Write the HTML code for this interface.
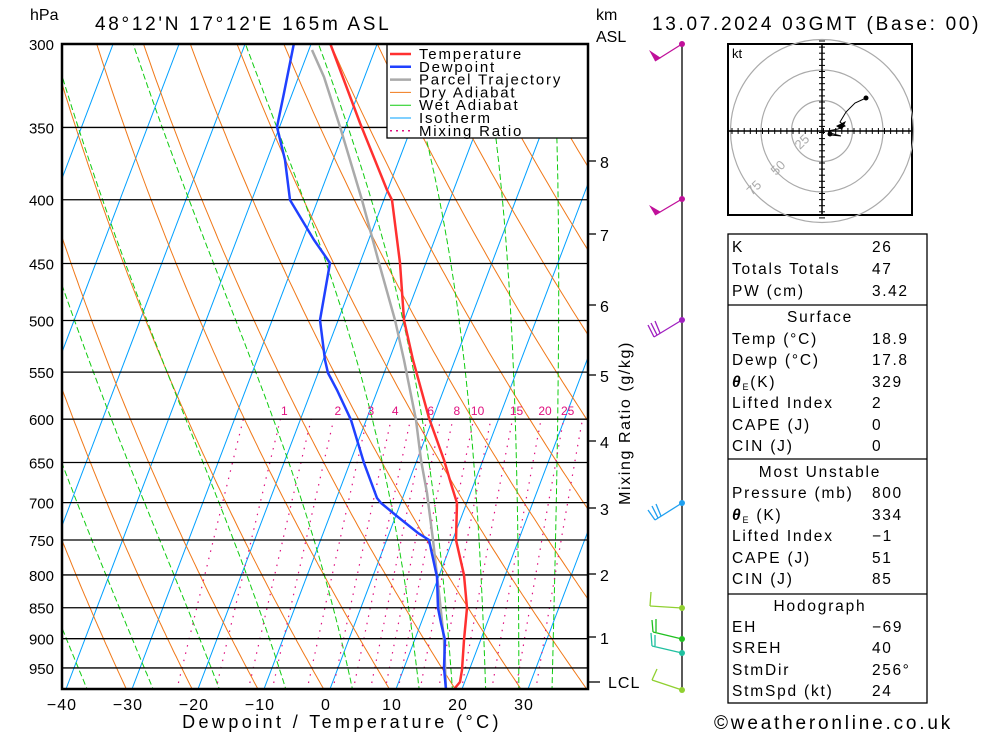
<!DOCTYPE html>
<html><head><meta charset="utf-8"><style>
body{margin:0;background:#fff;width:1000px;height:733px;overflow:hidden;font-family:"Liberation Sans",sans-serif}
svg{position:absolute;left:0;top:0}
</style></head><body>
<svg id="s" width="1000" height="733" viewBox="0 0 1000 733" font-family="Liberation Sans, sans-serif">
<defs><clipPath id="c"><rect x="62" y="44" width="526" height="645"/></clipPath></defs>
<g id="bg" clip-path="url(#c)"></g>
<g id="fg"></g>
</svg>
<script>
const NS="http://www.w3.org/2000/svg";
const bg=document.getElementById('bg'),fg=document.getElementById('fg');
function el(par,tag,a,txt){const e=document.createElementNS(NS,tag);for(const k in a)e.setAttribute(k,a[k]);if(txt!==undefined)e.textContent=txt;par.appendChild(e);return e;}
const Y=p=>44+541.3*Math.log(p/300);
const X=(T,y)=>330+6.6*T+0.38*(689-y);
function pl(par,pts,st){el(par,'polyline',Object.assign({points:pts.map(p=>p[0].toFixed(1)+','+p[1].toFixed(1)).join(' '),fill:'none'},st));}
for(let T=-120;T<=50;T+=10){pl(bg,[[X(T,689),689],[X(T,44),44]],{stroke:'#00a0ff','stroke-width':1});}
for(let th=-40;th<=220;th+=10){const pts=[];for(let p=990;p>=295;p-=5){const T=(th+273.15)*Math.pow(p/1000,0.286)-273.15;const y=Y(p);pts.push([X(T,y),y]);}pl(bg,pts,{stroke:'#f07818','stroke-width':1});}
function ws(T,p){const e=6.112*Math.exp(17.67*T/(T+243.5));return 0.622*e/(p-e);}
function dTdp(T,p){const Tk=T+273.15,r=ws(T,p),Rd=287,cp=1004,L=2.5e6;return (Rd*Tk+L*r)/(p*(cp+L*L*r*0.622/(Rd*Tk*Tk)));}
for(const tw of [-36,-26,-16,-6,4,14,19,24,29,34]){const pts=[];let T=tw;
 const Tb=tw+dTdp(tw,1000)*(-10);pts.push([X(Tb,Y(990)),Y(990)]);
 for(let p=1000;p>=295;p-=2){const y=Y(p);pts.push([X(T,y),y]);T-=dTdp(T,p)*2;}
 pl(bg,pts,{stroke:'#10cc10','stroke-width':1,'stroke-dasharray':'6,3'});}
const mr=[1,2,3,4,6,8,10,15,20,25];
for(const w of [0.6,1.5,5,7,12,30].concat(mr)){const pts=[];for(let p=990;p>=600;p-=10){const e=w/1000*p/(0.622+w/1000);const l=Math.log(e/6.112);const T=243.5*l/(17.67-l);const y=Y(p);pts.push([X(T,y),y]);}
 pl(bg,pts,{stroke:'#e0107f','stroke-width':1.2,'stroke-dasharray':'1.5,6'});
 if(mr.includes(w)){const x=pts[pts.length-1][0];el(fg,'text',{x:x+4,y:415,'font-size':12,fill:'#e0107f','text-anchor':'middle'},String(w));}}
const P=[300,350,400,450,500,550,600,650,700,750,800,850,900,950];
for(const p of P){const y=Y(p);el(bg,'line',{x1:62,x2:588,y1:y,y2:y,stroke:'#000','stroke-width':1.3});el(fg,'text',{x:54,y:y+6,'font-size':15,'text-anchor':'end'},String(p));}
const temp=[[455,688],[460,682],[462,670],[464,640],[467,608],[464,575],[456,540],[457,503],[452,487],[444,460],[429,418],[413,360],[404,320],[400,263],[392,200],[387,190],[360,123],[330,43]];
const dew=[[446,690],[444,668],[445,640],[441,623],[438,608],[437,577],[429,540],[418,533],[398,517],[381,503],[377,498],[364,463],[351,420],[337,390],[328,373],[325,360],[320,320],[330,263],[314,240],[290,200],[285,160],[277,127],[284,93],[294,43]];
const par=[[446,690],[444,640],[439,593],[433,540],[427,493],[421,460],[416,420],[404,360],[395,320],[379,263],[362,200],[341,130],[324,77],[312,50]];
pl(bg,par,{stroke:'#aaaaaa','stroke-width':2.5});
pl(bg,temp,{stroke:'#ff3030','stroke-width':2.5});
pl(bg,dew,{stroke:'#2040ff','stroke-width':2.5});
el(fg,'rect',{x:387,y:44,width:201,height:94,fill:'#fff',stroke:'#000','stroke-width':1.3});
const leg=[['Temperature','#ff3030',2.5,''],['Dewpoint','#2040ff',2.5,''],['Parcel Trajectory','#aaa',2.5,''],['Dry Adiabat','#f07818',1,''],['Wet Adiabat','#10cc10',1,''],['Isotherm','#00a0ff',1,''],['Mixing Ratio','#e0107f',1.5,'2,4']];
leg.forEach((l,i)=>{const y=54+i*12.8;el(fg,'line',{x1:390,x2:411,y1:y,y2:y,stroke:l[1],'stroke-width':l[2],'stroke-dasharray':l[3]});el(fg,'text',{x:419,y:y+5,'font-size':15,'letter-spacing':'1.8'},l[0]);});
el(fg,'rect',{x:62,y:44,width:526,height:645,fill:'none',stroke:'#000','stroke-width':2.5});
[-40,-30,-20,-10,0,10,20,30].forEach((t,i)=>el(fg,'text',{x:62+66*i,y:710,'font-size':16,'text-anchor':'middle','letter-spacing':'1'},t<0?'\u2212'+(-t):String(t)));
el(fg,'text',{x:342,y:728,'font-size':18,'text-anchor':'middle','letter-spacing':'3.4'},'Dewpoint / Temperature (°C)');
el(fg,'text',{x:30,y:20,'font-size':16},'hPa');
el(fg,'text',{x:95,y:30,'font-size':19,'letter-spacing':'2.7'},"48°12'N  17°12'E  165m  ASL");
el(fg,'text',{x:596,y:20,'font-size':16},'km');
el(fg,'text',{x:596,y:42,'font-size':16},'ASL');
el(fg,'text',{x:652,y:30,'font-size':19,'letter-spacing':'2.7'},'13.07.2024  03GMT  (Base: 00)');
[[8,161],[7,234],[6,305],[5,375],[4,441],[3,508],[2,574],[1,637]].forEach(k=>{el(fg,'line',{x1:588,x2:596,y1:k[1],y2:k[1],stroke:'#000','stroke-width':1.3});el(fg,'text',{x:600,y:k[1]+7,'font-size':16},String(k[0]));});
el(fg,'line',{x1:588,x2:600,y1:682,y2:682,stroke:'#000','stroke-width':1.3});
el(fg,'text',{x:608,y:688,'font-size':16,'letter-spacing':'1'},'LCL');
el(fg,'text',{x:0,y:0,'font-size':16,transform:'translate(630,423) rotate(-90)','text-anchor':'middle','letter-spacing':'1.6'},'Mixing Ratio (g/kg)');
el(fg,'line',{x1:682,x2:682,y1:44,y2:690,stroke:'#000','stroke-width':1.3});
function barb(y,col,ex,ey,extra){el(fg,'line',{x1:682,y1:y,x2:ex,y2:ey,stroke:col,'stroke-width':1.3});el(fg,'circle',{cx:682,cy:y,r:3,fill:col});extra.forEach(s=>{if(s.length==6)el(fg,'polygon',{points:s.join(','),fill:col});else el(fg,'line',{x1:s[0],y1:s[1],x2:s[2],y2:s[3],stroke:col,'stroke-width':1.3});});}
barb(44,'#c0109a',655,61,[[649,50,655,61,661,58]]);
barb(199,'#c0109a',655,215,[[649,205,655,215,661,212]]);
barb(320,'#a020c0',654,337,[[654,337,648,325],[657,335,651,323],[660,333,655,321]]);
barb(503,'#20a0f0',655,520,[[655,520,648,510],[658,518,652,506],[661,516,656,504]]);
barb(608,'#90d030',650,606,[[650,606,651,592]]);
barb(639,'#20c020',653,632,[[653,632,652,620],[656,632,656,619]]);
barb(653,'#20c0a0',652,646,[[652,646,651,633],[655,646,655,635]]);
barb(690,'#90d030',652,680,[[652,680,657,669]]);
el(fg,'rect',{x:728,y:44,width:184,height:171,fill:'#fff',stroke:'#000','stroke-width':2});
const hc=[822,131];
[30.5,61,91.5].forEach(r=>el(fg,'circle',{cx:hc[0],cy:hc[1],r:r,fill:'none',stroke:'#aaa','stroke-width':1.2}));
el(fg,'line',{x1:728,x2:912,y1:hc[1],y2:hc[1],stroke:'#000','stroke-width':1.5});
el(fg,'line',{x1:hc[0],x2:hc[0],y1:44,y2:215,stroke:'#000','stroke-width':1.5});
for(let d=-90;d<=90;d+=6.1){el(fg,'line',{x1:hc[0]+d,x2:hc[0]+d,y1:hc[1]-3,y2:hc[1]+3,stroke:'#000'});el(fg,'line',{y1:hc[1]+d,y2:hc[1]+d,x1:hc[0]-3,x2:hc[0]+3,stroke:'#000'});}
el(fg,'text',{x:732,y:58,'font-size':13},'kt');
[['25',800,150],['50',776,176],['75',752,196]].forEach(t=>el(fg,'text',{x:t[1],y:t[2],'font-size':13,fill:'#aaa',transform:`rotate(-45 ${t[1]} ${t[2]})`},t[0]));
pl(fg,[[866,98],[855,103],[846,112],[840,122],[845,126],[838,129],[828,131],[831,135],[841,136],[830,133]],{stroke:'#000','stroke-width':1});
el(fg,'circle',{cx:866,cy:98,r:2.5});el(fg,'circle',{cx:830,cy:134,r:2.5});
el(fg,'polygon',{points:'836,126 846,121 842,130'});
const T=fg;
el(T,'rect',{x:728,y:234,width:199,height:469,fill:'none',stroke:'#000','stroke-width':1.3});
[305,459,594].forEach(y=>el(T,'line',{x1:728,x2:927,y1:y,y2:y,stroke:'#000','stroke-width':1.3}));
const rows=[['K','26',246],['Totals Totals','47',268],['PW (cm)','3.42',290],
['Temp (°C)','18.9',338],['Dewp (°C)','17.8',359],['θ|(K)','329',381],['Lifted Index','2',402],['CAPE (J)','0',424],['CIN (J)','0',445],
['Pressure (mb)','800',492],['θ| (K)','334',514],['Lifted Index','\u22121',535],['CAPE (J)','51',557],['CIN (J)','85',578],
['EH','\u221269',626],['SREH','40',647],['StmDir','256°',669],['StmSpd (kt)','24',690]];
rows.forEach(r=>{
 if(r[0].startsWith('θ|')){const t=el(T,'text',{x:732,y:r[2]+6,'font-size':15.5,'letter-spacing':'1.8'});
  el(t,'tspan',{'font-style':'italic','font-weight':'bold'},'θ');el(t,'tspan',{'font-size':9,dy:3},'E');el(t,'tspan',{dy:-3},r[0].slice(2));}
 else el(T,'text',{x:732,y:r[2]+6,'font-size':15.5,'letter-spacing':'1.8'},r[0]);
 el(T,'text',{x:872,y:r[2]+6,'font-size':15.5,'letter-spacing':'1.6'},r[1]);});
[['Surface',316],['Most Unstable',471],['Hodograph',605]].forEach(h=>el(T,'text',{x:820,y:h[1]+6,'font-size':15.5,'text-anchor':'middle','letter-spacing':'1.8'},h[0]));
el(fg,'text',{x:714,y:729,'font-size':19,'letter-spacing':'2.8'},'©weatheronline.co.uk');
</script>
</body></html>
